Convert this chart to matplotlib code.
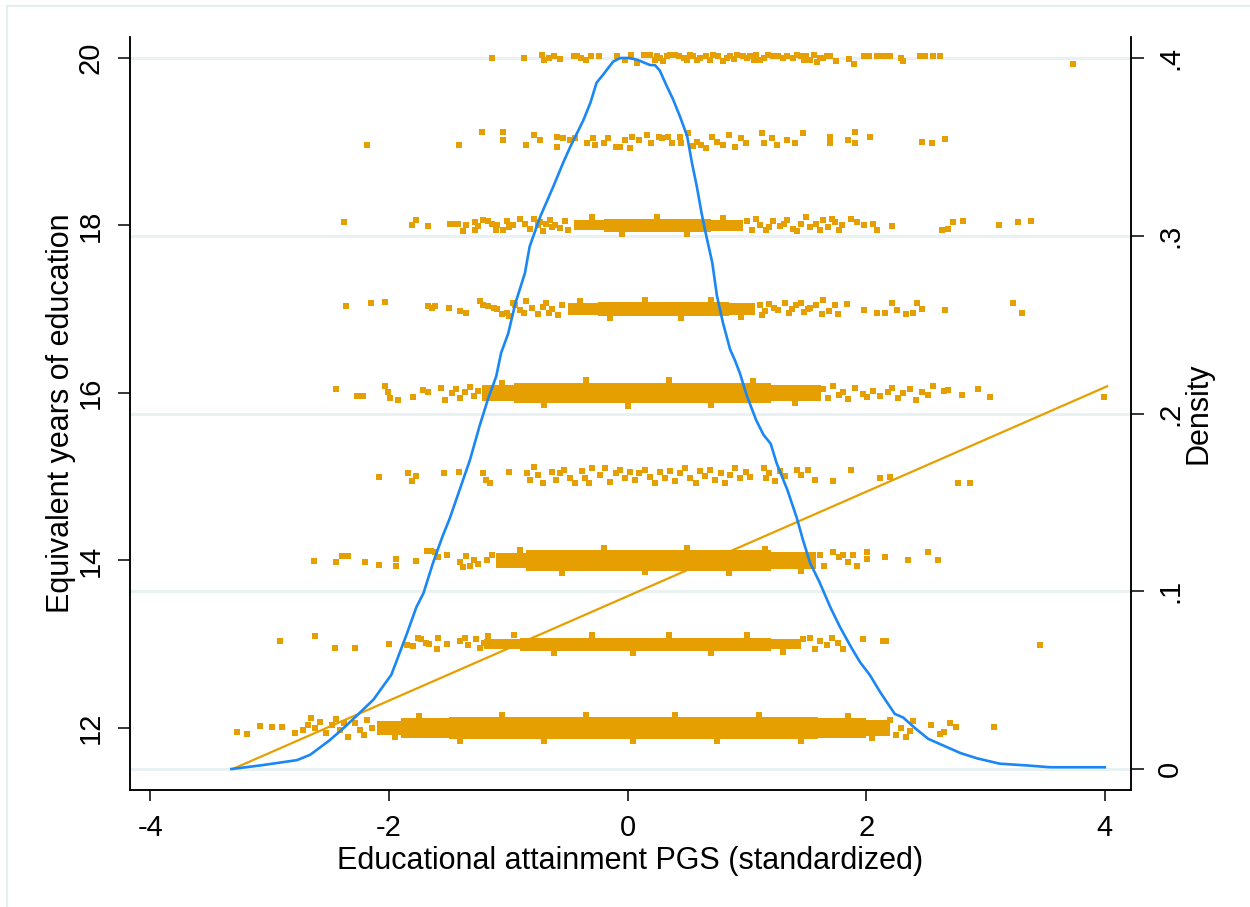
import numpy as np
import matplotlib
matplotlib.use("Agg")
import matplotlib.pyplot as plt
from matplotlib.lines import Line2D
from matplotlib.transforms import blended_transform_factory

plt.rcParams['font.family'] = ['Liberation Sans', 'DejaVu Sans']

ORANGE = '#e69f00'
BLUE = '#1a87f5'
GRID = '#e9f1f3'

# education levels (rows of the jittered scatter)
levels = [12, 13, 14, 15, 16, 17, 18, 19, 20]

# solid dense cores of the rows: level, x start, x end, half height
band_level = [12, 12, 12, 12, 12, 13, 13, 13, 14, 14, 14, 16, 16, 16,
              17, 17, 17, 18, 18, 18]
band_x0 = [-2.10, -1.90, -1.50, 1.60, 2.00, -1.20, -0.90, 1.20, -1.10, -0.85, 1.20,
           -1.22, -0.95, 1.20, -0.50, -0.25, 0.85, -0.45, -0.20, 0.70]
band_x1 = [-1.90, -1.50, 1.60, 2.00, 2.20, -0.90, 1.20, 1.45, -0.85, 1.20, 1.58,
           -0.95, 1.20, 1.62, -0.25, 0.85, 1.07, -0.20, 0.70, 0.97]
band_half = [0.08, 0.12, 0.135, 0.12, 0.09, 0.06, 0.08, 0.06, 0.09, 0.12, 0.10,
             0.09, 0.12, 0.10, 0.07, 0.085, 0.07, 0.06, 0.08, 0.065]

# single markers: (PGS, jitter offset from the level)
pts12 = [(-3.27, -0.05), (-3.19, -0.07), (-3.08, 0.02), (-2.98, 0.01), (-2.90, 0.01),
         (-2.79, -0.06), (-2.72, -0.02), (-2.68, 0.04), (-2.65, 0.12), (-2.62, 0.0),
         (-2.58, 0.07), (-2.53, -0.06), (-2.48, 0.04), (-2.44, 0.11), (-2.41, -0.02),
         (-2.38, 0.06), (-2.34, -0.11), (-2.28, 0.06), (-2.24, -0.02), (-2.21, -0.08),
         (-2.18, 0.10), (-2.14, 0.0), (2.20, 0.10), (2.25, -0.08), (2.29, 0.0),
         (2.33, -0.11), (2.37, -0.04), (2.39, 0.08), (2.54, 0.04), (2.62, -0.07),
         (2.65, -0.05), (2.70, 0.06), (2.75, 0.01), (3.07, 0.01),
         (-1.75, 0.14), (-1.40, -0.15), (-1.05, 0.16), (-0.70, -0.16), (-0.35, 0.16),
         (0.05, -0.16), (0.40, 0.16), (0.75, -0.16), (1.10, 0.16), (1.45, -0.15),
         (1.85, 0.14), (-1.95, -0.11), (2.05, -0.12)]
pts13 = [(-2.91, 0.04), (-2.62, 0.10), (-2.45, -0.05), (-2.28, -0.05), (-2.00, 0.0),
         (-1.85, -0.01), (-1.80, -0.02), (-1.76, 0.08), (-1.73, 0.06), (-1.69, 0.02),
         (-1.66, 0.0), (-1.60, -0.06), (-1.59, 0.08), (-1.51, 0.0), (-1.40, 0.04),
         (-1.36, 0.07), (-1.34, -0.01), (-1.27, 0.06), (-1.24, -0.04), (-1.20, 0.02),
         (-1.17, 0.10), (1.47, 0.06), (1.53, 0.08), (1.57, -0.06), (1.61, 0.04),
         (1.67, -0.01), (1.71, 0.07), (1.76, 0.01), (1.81, -0.06), (1.97, 0.06),
         (2.14, 0.04), (2.17, 0.04), (3.46, -0.01),
         (-0.95, 0.11), (-0.62, -0.11), (-0.30, 0.11), (0.05, -0.11), (0.35, 0.11),
         (0.70, -0.11), (1.00, 0.11), (1.30, -0.09)]
pts14 = [(-2.63, -0.01), (-2.44, -0.02), (-2.39, 0.05), (-2.34, 0.05), (-2.20, -0.02),
         (-2.08, -0.05), (-1.94, 0.02), (-1.94, -0.07), (-1.77, -0.01), (-1.68, 0.11),
         (-1.65, 0.11), (-1.61, 0.10), (-1.59, 0.04), (-1.51, 0.07), (-1.40, -0.02),
         (-1.38, -0.08), (-1.35, 0.05), (-1.32, -0.06), (-1.29, 0.01), (-1.25, -0.04),
         (-1.18, 0.0), (-1.14, 0.06), (1.61, 0.06), (1.65, -0.06), (1.72, 0.10),
         (1.77, 0.04), (1.81, 0.06), (1.85, -0.02), (1.89, 0.07), (1.92, -0.06),
         (2.01, 0.10), (2.01, 0.02), (2.16, 0.04), (2.35, 0.0), (2.52, 0.10), (2.60, 0.01),
         (-0.90, 0.12), (-0.55, -0.15), (-0.20, 0.15), (0.15, -0.14), (0.50, 0.15),
         (0.85, -0.15), (1.15, 0.14), (1.45, -0.12)]
pts15 = [(-2.08, 0.0), (-1.84, 0.05), (-1.81, -0.05), (-1.77, 0.01), (-1.54, 0.05),
         (-1.41, 0.06), (-1.21, 0.05), (-1.19, -0.04), (-1.15, -0.07), (-0.99, 0.06),
         (-0.84, 0.05), (-0.82, -0.04), (-0.78, 0.12), (-0.75, 0.02), (-0.71, -0.07),
         (-0.63, 0.06), (-0.60, -0.04), (-0.57, 0.04), (-0.53, 0.08), (-0.48, -0.01),
         (-0.44, -0.08), (-0.38, 0.07), (-0.36, -0.01), (-0.32, -0.08), (-0.30, 0.10),
         (-0.23, 0.02), (-0.19, 0.10), (-0.15, -0.06), (-0.10, 0.04), (-0.06, 0.08),
         (-0.02, -0.02), (0.02, 0.06), (0.06, -0.04), (0.10, 0.05), (0.15, 0.08),
         (0.19, 0.0), (0.23, -0.08), (0.27, 0.06), (0.31, -0.01), (0.36, 0.07),
         (0.40, -0.05), (0.44, 0.04), (0.48, 0.10), (0.52, -0.01), (0.57, -0.07),
         (0.61, 0.07), (0.65, 0.01), (0.69, 0.08), (0.73, -0.04), (0.78, 0.05),
         (0.82, -0.08), (0.86, 0.02), (0.90, 0.10), (0.94, -0.01), (0.99, 0.06),
         (1.03, 0.0), (1.14, 0.10), (1.16, -0.01), (1.19, 0.05), (1.24, -0.05),
         (1.28, 0.07), (1.32, 0.01), (1.42, 0.08), (1.45, 0.02), (1.51, 0.08),
         (1.57, -0.04), (1.72, -0.05), (1.87, 0.08), (2.12, -0.01), (2.20, 0.0),
         (2.77, -0.07), (2.87, -0.07)]
pts16 = [(-2.44, 0.05), (-2.27, -0.04), (-2.22, -0.04), (-2.03, 0.08), (-2.01, 0.01),
         (-1.99, -0.06), (-1.92, -0.08), (-1.80, -0.05), (-1.71, 0.04), (-1.67, 0.01),
         (-1.56, 0.06), (-1.53, -0.08), (-1.47, 0.0), (-1.44, 0.05), (-1.40, -0.06),
         (-1.36, 0.01), (-1.32, 0.07), (-1.29, -0.04), (-1.25, 0.02), (1.64, 0.05),
         (1.68, -0.06), (1.72, 0.08), (1.77, -0.02), (1.81, 0.01), (1.85, -0.07),
         (1.91, 0.06), (1.97, -0.01), (2.01, -0.05), (2.06, 0.02), (2.12, -0.04),
         (2.18, 0.01), (2.22, 0.06), (2.27, -0.06), (2.31, 0.0), (2.37, 0.05),
         (2.42, -0.08), (2.47, 0.01), (2.52, -0.02), (2.56, 0.08), (2.65, 0.02),
         (2.69, 0.04), (2.80, -0.02), (2.94, 0.05), (3.04, -0.05), (3.99, -0.05),
         (-1.05, 0.12), (-0.70, -0.14), (-0.35, 0.15), (0.00, -0.15), (0.35, 0.15),
         (0.70, -0.14), (1.05, 0.14), (1.40, -0.12)]
pts17 = [(-2.36, 0.04), (-2.15, 0.07), (-2.03, 0.09), (-1.67, 0.04), (-1.64, 0.02),
         (-1.61, 0.04), (-1.50, 0.01), (-1.40, -0.02), (-1.35, -0.05), (-1.24, 0.10),
         (-1.21, 0.05), (-1.17, 0.04), (-1.09, 0.0), (-1.05, -0.06), (-1.01, -0.04),
         (-0.99, -0.08), (-0.94, 0.05), (-0.90, -0.01), (-0.85, 0.10), (-0.80, 0.02),
         (-0.75, -0.06), (-0.68, 0.08), (-0.63, 0.0), (-0.58, -0.07), (-0.55, 0.05),
         (1.11, 0.05), (1.15, -0.02), (1.19, 0.06), (1.26, -0.01), (1.32, 0.07),
         (1.38, 0.0), (1.45, 0.07), (1.51, 0.0), (1.53, 0.02), (1.63, -0.06),
         (1.64, 0.11), (1.74, 0.05), (1.76, -0.06), (1.84, 0.06), (1.98, -0.01),
         (2.09, -0.04), (2.16, -0.04), (2.22, 0.08), (2.26, -0.01), (2.33, -0.06),
         (2.39, -0.04), (2.43, 0.08), (2.47, 0.0), (2.66, -0.01), (3.23, 0.07),
         (3.31, -0.04),
         (-0.40, 0.10), (-0.15, -0.11), (0.15, 0.11), (0.45, -0.11), (0.70, 0.11),
         (0.95, -0.09), (-1.12, 0.02), (-0.96, 0.07), (-0.87, -0.05), (-0.71, 0.03),
         (-0.66, -0.04), (1.13, -0.07), (1.23, 0.02), (1.35, -0.04), (1.41, 0.05),
         (1.48, -0.03), (1.58, 0.05), (1.69, -0.02)]
pts18 = [(-2.38, 0.04), (-1.81, 0.0), (-1.77, 0.06), (-1.67, -0.01), (-1.49, 0.02),
         (-1.45, 0.02), (-1.42, 0.02), (-1.38, -0.07), (-1.35, 0.01), (-1.28, 0.04),
         (-1.28, -0.05), (-1.21, 0.07), (-1.17, 0.05), (-1.14, 0.02), (-1.09, 0.0),
         (-1.04, -0.05), (-1.01, 0.05), (-0.99, -0.02), (-0.96, 0.0), (-0.90, 0.08),
         (-0.78, 0.08), (-0.75, 0.0), (-0.73, 0.04), (-0.71, -0.07), (-0.65, 0.07),
         (-0.63, -0.02), (-0.61, 0.01), (-0.52, 0.05), (-0.50, -0.06), (1.00, 0.05),
         (1.04, -0.05), (1.11, 0.01), (1.16, -0.05), (1.22, 0.05), (1.28, -0.01),
         (1.34, 0.06), (1.39, -0.04), (1.45, 0.02), (1.50, 0.10), (1.53, -0.02),
         (1.58, 0.02), (1.64, 0.07), (1.68, -0.02), (1.74, 0.04), (1.80, 0.0),
         (1.87, 0.08), (1.92, 0.04), (1.98, 0.01), (2.06, 0.02), (2.09, -0.06),
         (2.22, -0.01), (2.64, -0.06), (2.69, -0.04), (2.73, 0.04), (2.81, 0.05),
         (3.11, 0.0), (3.27, 0.04), (3.38, 0.05),
         (-0.30, 0.10), (-0.05, -0.10), (0.25, 0.10), (0.50, -0.10), (0.80, 0.09),
         (-1.25, -0.01), (-1.10, -0.06), (-0.86, 0.02), (-0.82, -0.04), (-0.68, 0.02),
         (-0.57, -0.03), (1.08, 0.08), (1.19, -0.02), (1.31, 0.02), (1.42, -0.07),
         (1.61, -0.05), (1.71, 0.08), (1.77, -0.05)]
pts19 = [(-2.18, -0.04), (-1.41, -0.04), (-1.22, 0.11), (-1.04, 0.11), (-1.04, 0.02),
         (-0.85, -0.04), (-0.78, 0.08), (-0.73, 0.02), (-0.59, 0.06), (-0.59, -0.06),
         (-0.54, 0.05), (-0.44, 0.05), (-0.34, -0.01), (-0.29, 0.05), (-0.27, -0.04),
         (-0.16, 0.05), (-0.10, -0.06), (-0.06, -0.06), (-0.02, 0.02), (0.02, -0.08),
         (0.04, 0.06), (0.16, 0.08), (0.20, -0.02), (0.26, 0.06), (0.29, 0.04),
         (0.34, 0.06), (0.37, -0.02), (0.44, 0.06), (0.45, -0.02), (0.51, 0.10),
         (0.58, 0.0), (0.62, -0.04), (0.66, -0.08), (0.71, 0.06), (0.80, -0.04),
         (0.85, 0.08), (0.90, -0.06), (0.99, -0.02), (1.13, 0.10), (1.14, -0.02),
         (1.21, 0.04), (1.34, 0.02), (1.40, -0.02), (1.47, 0.10), (1.70, 0.06),
         (1.70, -0.02), (1.85, 0.02), (1.91, 0.12), (1.91, -0.02), (2.03, 0.06),
         (2.47, 0.0), (2.55, -0.02), (2.66, 0.03),
         (-0.48, 0.02), (-0.20, -0.02), (0.10, 0.02), (0.55, -0.05), (0.75, 0.0),
         (0.95, 0.05), (1.25, -0.04)]
pts20 = [(-1.14, 0.0), (-0.87, 0.0), (-0.72, 0.03), (-0.70, -0.03), (-0.66, 0.0),
         (-0.57, -0.01), (-0.45, 0.02), (-0.42, 0.02), (-0.39, 0.0), (-0.31, 0.02),
         (-0.24, 0.02), (-0.09, 0.02), (-0.02, -0.03), (0.03, 0.03), (0.08, -0.06),
         (0.19, 0.03), (0.23, -0.02), (0.25, 0.02), (0.30, -0.04), (0.36, 0.03),
         (0.40, 0.03), (0.43, 0.02), (0.47, 0.0), (0.52, 0.03), (0.55, 0.02),
         (0.58, -0.03), (0.61, 0.0), (0.72, 0.03), (0.80, -0.04), (0.83, 0.0),
         (0.86, 0.02), (0.92, 0.03), (0.97, 0.02), (1.03, 0.02), (1.06, -0.02),
         (1.08, 0.03), (1.14, 0.0), (1.22, 0.02), (1.26, 0.02), (1.30, 0.0),
         (1.34, 0.02), (1.39, 0.0), (1.45, 0.02), (1.48, -0.02), (1.50, 0.02),
         (1.56, 0.03), (1.59, -0.05), (1.61, 0.0), (1.64, 0.0), (1.67, 0.02),
         (1.75, -0.04), (1.86, -0.01), (1.90, -0.07), (1.98, 0.02), (2.09, 0.02),
         (2.14, 0.02), (2.17, 0.02), (2.29, 0.0), (2.31, -0.04), (2.45, 0.02),
         (2.49, 0.02), (2.56, 0.02), (2.62, 0.02), (3.73, -0.07),
         (0.27, 0.0), (0.33, 0.02), (0.50, -0.02), (0.66, 0.02), (0.69, -0.02),
         (0.76, 0.02), (0.89, -0.01), (1.00, 0.0), (1.11, -0.02), (1.18, 0.03),
         (1.42, 0.03), (1.53, -0.03), (1.70, 0.02), (-0.62, 0.02), (-0.35, -0.02),
         (0.14, 0.03), (2.02, 0.02), (2.20, 0.02)]
row_points = [pts12, pts13, pts14, pts15, pts16, pts17, pts18, pts19, pts20]

# linear fit (endpoints)
fit_x = [-3.31, 4.02]
fit_y = [11.51, 16.08]

# kernel density of the PGS (right axis)
dens_x = [-3.32, -3.08, -2.77, -2.66, -2.50, -2.38, -2.27, -2.13, -1.98, -1.94,
          -1.85, -1.77, -1.71, -1.63, -1.55, -1.49, -1.32, -1.24, -1.17, -1.10,
          -1.06, -1.00, -0.94, -0.86, -0.82, -0.73, -0.62, -0.54, -0.48, -0.37,
          -0.31, -0.26, -0.20, -0.12, -0.06, 0.01, 0.08, 0.19, 0.23, 0.27,
          0.33, 0.38, 0.44, 0.50, 0.54, 0.58, 0.62, 0.66, 0.71, 0.75,
          0.80, 0.86, 0.90, 0.94, 1.00, 1.08, 1.14, 1.20, 1.25, 1.34,
          1.42, 1.47, 1.53, 1.61, 1.70, 1.78, 1.87, 1.95, 2.03, 2.12,
          2.24, 2.31, 2.41, 2.52, 2.62, 2.79, 2.93, 3.12, 3.35, 3.54, 4.00]
dens_y = [0.000, 0.002, 0.005, 0.008, 0.016, 0.023, 0.030, 0.039, 0.053, 0.060,
          0.076, 0.091, 0.099, 0.116, 0.131, 0.141, 0.174, 0.193, 0.208, 0.221,
          0.234, 0.245, 0.262, 0.279, 0.294, 0.311, 0.328, 0.341, 0.350, 0.365,
          0.375, 0.386, 0.391, 0.398, 0.400, 0.400, 0.399, 0.396, 0.396, 0.393,
          0.384, 0.377, 0.367, 0.356, 0.341, 0.328, 0.313, 0.300, 0.285, 0.266,
          0.251, 0.236, 0.230, 0.223, 0.210, 0.196, 0.188, 0.183, 0.172, 0.157,
          0.141, 0.129, 0.116, 0.105, 0.091, 0.080, 0.069, 0.060, 0.053, 0.043,
          0.031, 0.029, 0.023, 0.017, 0.014, 0.009, 0.006, 0.003, 0.002, 0.001, 0.001]

left_ticks = [12, 14, 16, 18, 20]
right_ticks = [0, 0.1, 0.2, 0.3, 0.4]
right_labels = ['0', '.1', '.2', '.3', '.4']
x_ticks = [-4, -2, 0, 2, 4]

fig = plt.figure(figsize=(12.5, 9.07), dpi=100)
ax = fig.add_axes([0.104, 0.129, 0.8008, 0.8302])
ax2 = ax.twinx()

ax.set_xlim(-4.17, 4.22)
ax.set_ylim(11.26, 20.25)
ax2.set_ylim(-0.0118, 0.4118)

# horizontal grid at the density ticks, kept behind the markers
gtrans = blended_transform_factory(ax.transAxes, ax2.transData)
for d in right_ticks:
    ax.plot([0, 1], [d, d], transform=gtrans, color=GRID, lw=2.2, zorder=0)

for lev, x0, x1, h in zip(band_level, band_x0, band_x1, band_half):
    ax.broken_barh([(x0, x1 - x0)], (lev - h, 2 * h), facecolors=ORANGE,
                   edgecolor='none', zorder=2)

for lev, pts in zip(levels, row_points):
    px = [p[0] for p in pts]
    py = [lev + p[1] for p in pts]
    ax.scatter(px, py, marker='s', s=25, color=ORANGE, linewidths=0, zorder=2)

ax.plot(fit_x, fit_y, color=ORANGE, lw=1.6, zorder=3)
ax2.plot(dens_x, dens_y, color=BLUE, lw=1.9, zorder=4)

for a in (ax, ax2):
    a.spines['top'].set_visible(False)
    for s in a.spines.values():
        s.set_linewidth(1.1)

ax.set_xticks(x_ticks)
ax.set_xticklabels([str(v) for v in x_ticks])
ax.set_yticks(left_ticks)
ax.set_yticklabels([str(v) for v in left_ticks], rotation=90, va='center')
ax2.set_yticks(right_ticks)
ax2.set_yticklabels(right_labels, rotation=90, va='center')

ax.tick_params(axis='x', length=8, width=1.1, labelsize=21, pad=9)
ax.tick_params(axis='y', length=9, width=1.1, labelsize=21, pad=9)
ax2.tick_params(axis='y', length=9, width=1.1, labelsize=21, pad=9)

ax.set_xlabel('Educational attainment PGS (standardized)', fontsize=22, labelpad=3)
ax.set_ylabel('Equivalent years of education', fontsize=22, labelpad=1)
ax2.set_ylabel('Density', fontsize=22, labelpad=0)

# faint outer frame of the graph region
fig.add_artist(Line2D([0.0056, 0.0056], [0, 0.9934], transform=fig.transFigure,
                      color='#e6eef0', lw=1.5))
fig.add_artist(Line2D([0.0056, 1], [0.9934, 0.9934], transform=fig.transFigure,
                      color='#e6eef0', lw=1.5))

fig.savefig('out.png', dpi=100)
